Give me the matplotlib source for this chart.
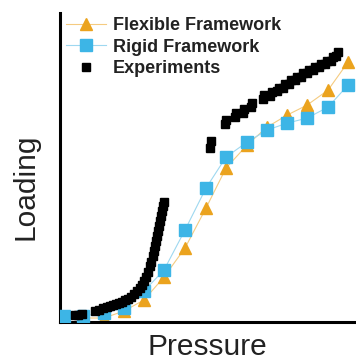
import matplotlib.pyplot as plt

plt.rcParams['font.family'] = ['Liberation Sans', 'DejaVu Sans']

# simulated isotherms (arbitrary pressure / loading units)
sim_pressure = [4, 23, 44, 64, 84, 104, 125, 146, 166, 187, 207, 227, 247, 268, 288]
flexible_loading = [4, 4, 4, 11, 22, 45, 74, 114, 154, 177, 195, 207, 217, 232, 260]
rigid_loading = [6, 6, 9, 14, 31, 52, 92, 134, 165, 180, 192, 199, 204, 215, 237]

# experimental isotherm, low-pressure branch then the step branch
exp_pressure = [15, 18, 22, 35, 39, 43, 47, 50, 53, 56, 59, 62, 65, 68, 71, 74, 77, 80,
                82, 84, 86, 88, 90, 91, 93, 94, 95, 96, 97, 98, 99, 100, 101, 102, 103, 104,
                150, 151, 165, 166, 175, 176, 183, 184, 191, 192, 203, 204, 210, 212, 217,
                219, 223, 225, 229, 231, 235, 237, 241, 243, 247, 249, 253, 255, 259, 261,
                265, 267, 271, 273, 276, 278]
exp_loading = [7, 7, 8, 11, 12, 14, 15, 16, 17, 18, 19, 20, 22, 23, 25, 28, 31, 34,
               37, 41, 45, 50, 56, 60, 66, 71, 76, 81, 86, 91, 96, 101, 106, 111, 116, 120,
               174, 181, 198, 202, 205, 209, 209, 213, 215, 219, 223, 227, 226, 230, 231,
               234, 234, 238, 238, 242, 242, 245, 245, 249, 249, 252, 252, 255, 255, 258,
               258, 261, 261, 265, 266, 270]

orange = '#EBA31E'
blue = '#3DB5E6'

fig = plt.figure(figsize=(3.56, 3.62), dpi=100)
ax = fig.add_axes([0.1685, 0.1105, 0.8315, 0.853])

ax.plot(sim_pressure, flexible_loading, color='#F5CB80', lw=0.8, marker='^',
        ms=9, mfc=orange, mec=orange, label='Flexible Framework', zorder=2)
ax.plot(sim_pressure, rigid_loading, color='#9ED8F0', lw=0.8, marker='s',
        ms=8, mfc=blue, mec=blue, label='Rigid Framework', zorder=3)
ax.plot(exp_pressure, exp_loading, ls='none', marker='s', ms=5.5,
        color='black', label='Experiments', zorder=4)

ax.set_xlim(0, 296)
ax.set_ylim(0, 309)
ax.set_xticks([])
ax.set_yticks([])
for side in ['top', 'right']:
    ax.spines[side].set_visible(False)
for side in ['left', 'bottom']:
    ax.spines[side].set_linewidth(2.2)
    ax.spines[side].set_color('black')

fig.text(207 / 356, 1 - 347 / 362, 'Pressure', fontsize=21.5, color='#222222',
         ha='center', va='center')
fig.text(26 / 356, 1 - 187 / 362, 'Loading', fontsize=21.5, color='#222222',
         ha='center', va='center', rotation=90)

leg = ax.legend(loc='upper left', bbox_to_anchor=(66 / 356, 1 - 17 / 362),
                bbox_transform=fig.transFigure, frameon=False,
                prop={'weight': 'bold', 'size': 13}, handlelength=2.2,
                handletextpad=0.4, labelspacing=0.25, borderpad=0, borderaxespad=0)
for t in leg.get_texts():
    t.set_color('#222222')

fig.savefig('out.png', dpi=100)
